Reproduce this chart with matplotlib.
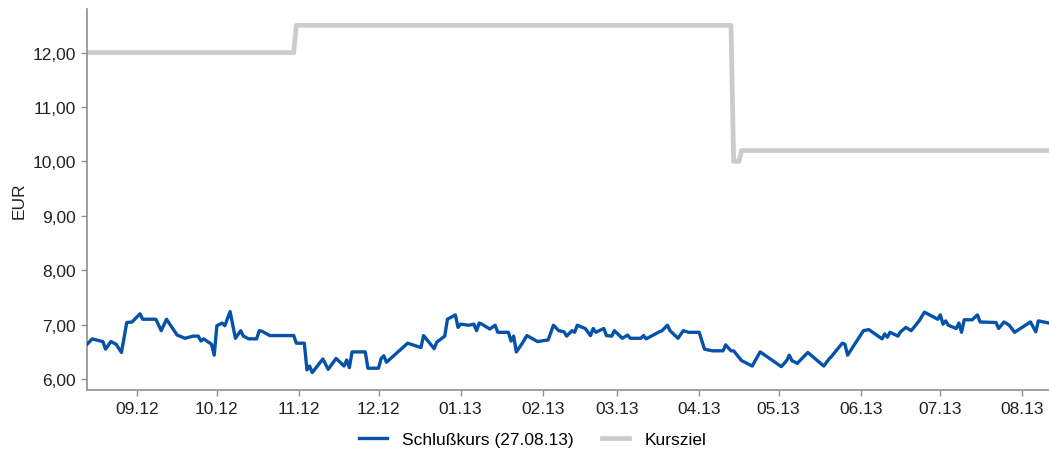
import numpy as np
import pandas as pd
import matplotlib
matplotlib.use("Agg")
import matplotlib.pyplot as plt
import matplotlib.dates as mdates
from matplotlib.ticker import FuncFormatter

plt.rcParams.update({
    "font.family": ["Liberation Sans", "DejaVu Sans"],
    "font.size": 12.5,
    "axes.spines.top": False,
    "axes.spines.right": False,
})

COL_KURS = "#0652a8"
COL_ZIEL = "#cccccc"
COL_AXIS = "#909090"
COL_TEXT = "#222222"

START = pd.Timestamp("2012-08-27")

# closing price (days since START, EUR)
kurs_day = [0, 2, 5, 6, 7, 9, 11, 13, 15, 17, 20, 21, 26, 28, 30, 34, 37, 40, 42, 43,
            44, 47, 48, 49, 51, 52, 54, 56, 58, 59, 61, 64, 65, 66, 69, 78, 79, 82, 83, 84,
            85, 89, 91, 94, 97, 98, 99, 100, 105, 106, 110, 111, 112, 113, 121, 126, 127, 131, 132, 135,
            136, 139, 140, 141, 144, 146, 147, 148, 149, 152, 154, 155, 159, 160, 161, 162, 164, 166, 170, 174,
            176, 178, 180, 181, 183, 184, 185, 188, 190, 191, 192, 195, 196, 198, 199, 202, 204, 205, 209, 210,
            211, 216, 217, 219, 220, 223, 225, 227, 231, 233, 236, 240, 241, 243, 244, 247, 251, 254, 262, 264,
            265, 266, 268, 272, 278, 280, 281, 285, 286, 287, 293, 295, 300, 301, 302, 303, 306, 307, 309, 311,
            314, 316, 321, 322, 323, 324, 325, 328, 329, 330, 331, 334, 336, 337, 343, 344, 346, 348, 350, 356,
            358, 359, 361, 363]
kurs_eur = [6.64, 6.74, 6.70, 6.69, 6.55, 6.69, 6.64, 6.49, 7.04, 7.05, 7.20, 7.10, 7.10, 6.89, 7.10, 6.81, 6.75, 6.79, 6.79, 6.70,
            6.74, 6.64, 6.44, 6.98, 7.03, 6.98, 7.24, 6.75, 6.89, 6.79, 6.74, 6.74, 6.89, 6.88, 6.80, 6.80, 6.66, 6.66, 6.17, 6.24,
            6.12, 6.37, 6.18, 6.38, 6.24, 6.35, 6.21, 6.50, 6.50, 6.20, 6.20, 6.38, 6.43, 6.31, 6.66, 6.58, 6.80, 6.56, 6.68, 6.79,
            7.10, 7.18, 6.95, 7.01, 6.99, 7.01, 6.89, 7.03, 7.01, 6.92, 6.99, 6.86, 6.86, 6.70, 6.79, 6.50, 6.64, 6.80, 6.69, 6.72,
            6.99, 6.89, 6.87, 6.79, 6.89, 6.86, 6.99, 6.93, 6.80, 6.93, 6.86, 6.93, 6.80, 6.79, 6.89, 6.75, 6.81, 6.75, 6.75, 6.80,
            6.74, 6.87, 6.89, 6.99, 6.89, 6.75, 6.89, 6.86, 6.86, 6.55, 6.52, 6.52, 6.63, 6.52, 6.52, 6.34, 6.24, 6.50, 6.23, 6.34,
            6.44, 6.34, 6.29, 6.49, 6.24, 6.37, 6.42, 6.66, 6.64, 6.44, 6.89, 6.91, 6.74, 6.83, 6.77, 6.86, 6.79, 6.87, 6.95, 6.89,
            7.07, 7.23, 7.10, 7.18, 7.01, 7.07, 6.99, 6.93, 7.03, 6.86, 7.09, 7.09, 7.18, 7.05, 7.04, 6.93, 7.05, 6.99, 6.86, 7.05,
            6.87, 7.07, 7.05, 7.03]

# price target (days since START, EUR)
ziel_day = [0, 78, 79, 243, 244, 246, 247, 363]
ziel_eur = [12.00, 12.00, 12.50, 12.50, 10.00, 10.00, 10.20, 10.20]

y_ticks = [6, 7, 8, 9, 10, 11, 12]

kurs_date = START + pd.to_timedelta(kurs_day, unit="D")
ziel_date = START + pd.to_timedelta(ziel_day, unit="D")

fig = plt.figure(figsize=(10.49, 4.52), dpi=100)
ax = fig.add_axes([87 / 1049, 61 / 452, 1 - 87 / 1049, 381 / 452])

ax.plot(ziel_date, ziel_eur, color=COL_ZIEL, lw=3.4, label="Kursziel", zorder=2)
ax.plot(kurs_date, kurs_eur, color=COL_KURS, lw=2.4, label="Schlußkurs (27.08.13)", zorder=3)

ax.set_xlim(START, START + pd.Timedelta(days=363))
ax.set_ylim(5.8, 12.8)
ax.set_yticks(y_ticks)
ax.yaxis.set_major_formatter(FuncFormatter(lambda v, p: f"{v:.2f}".replace(".", ",")))
ax.xaxis.set_major_locator(mdates.MonthLocator(bymonthday=15))
ax.xaxis.set_major_formatter(mdates.DateFormatter("%m.%y"))

for s in ("left", "bottom"):
    ax.spines[s].set_color(COL_AXIS)
    ax.spines[s].set_linewidth(1.2)
ax.tick_params(axis="both", colors=COL_AXIS, labelcolor=COL_TEXT, length=4, width=1, labelsize=12.5)
ax.tick_params(axis="x", pad=4)
ax.tick_params(axis="y", pad=4)
ax.set_ylabel("EUR", color=COL_TEXT, fontsize=12.5, labelpad=4)

handles, labels = ax.get_legend_handles_labels()
fig.legend(handles[::-1], labels[::-1], loc="center", bbox_to_anchor=(0.508, 0.026),
           ncol=2, frameon=False, handlelength=1.6, handletextpad=0.9,
           columnspacing=1.6, fontsize=12.5)

fig.savefig("out.png", dpi=100)
